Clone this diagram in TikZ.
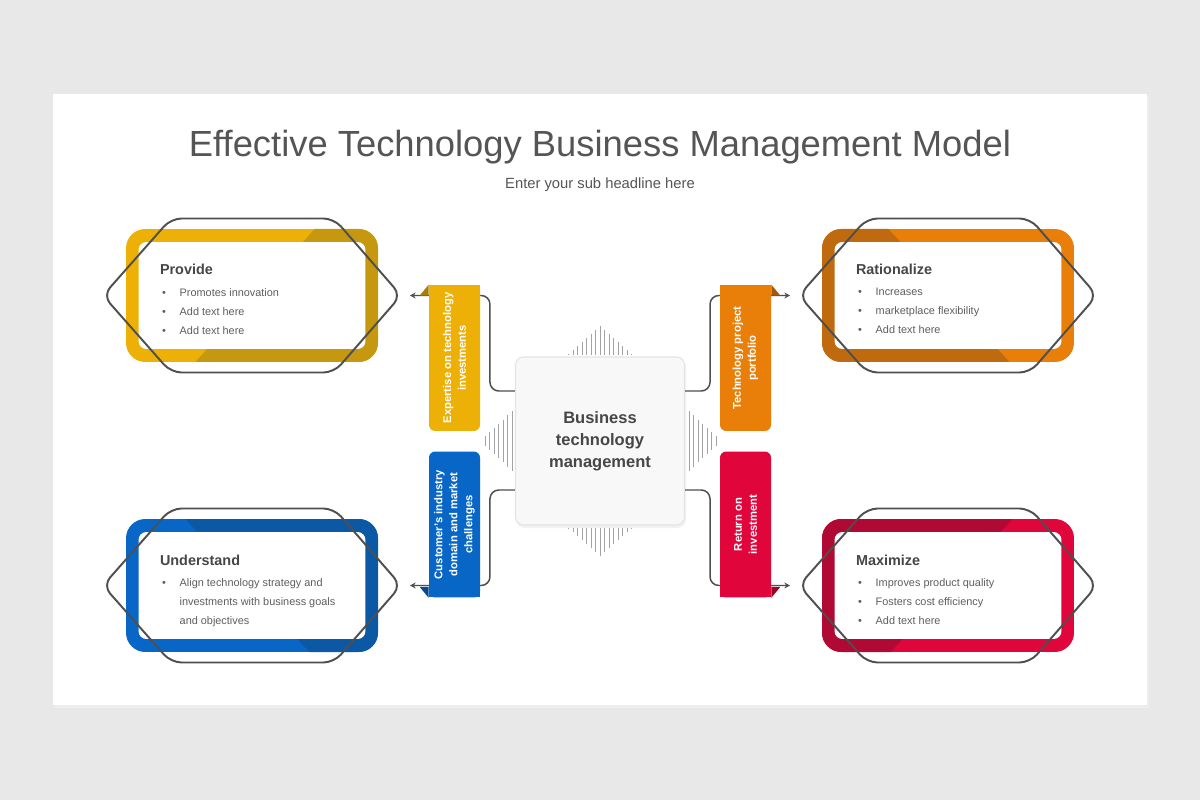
\documentclass[tikz,border=0pt]{standalone}
\usepackage{fontspec}
\setmainfont{Liberation Sans}
\usetikzlibrary{arrows.meta, positioning, calc}
\usepackage{xcolor}

\definecolor{pageGrey}{HTML}{E9E8E9}
\definecolor{titleGrey}{HTML}{555555}
\definecolor{headGrey}{HTML}{464646}
\definecolor{bodyGrey}{HTML}{5E5E5E}
\definecolor{lineGrey}{HTML}{4F4F4F}
\definecolor{hatchGrey}{HTML}{A3A3A3}
\definecolor{hubFill}{HTML}{F8F8F8}
\definecolor{hubEdge}{HTML}{E4E4E4}
\definecolor{yLight}{HTML}{EDB007}
\definecolor{yDark}{HTML}{C6980F}
\definecolor{yFold}{HTML}{A57D08}
\definecolor{oLight}{HTML}{E97F08}
\definecolor{oDark}{HTML}{BF6A0F}
\definecolor{oFold}{HTML}{A4580A}
\definecolor{bLight}{HTML}{0866C6}
\definecolor{bDark}{HTML}{0B58A5}
\definecolor{bFold}{HTML}{094A8E}
\definecolor{rLight}{HTML}{E0053A}
\definecolor{rDark}{HTML}{B00933}
\definecolor{rFold}{HTML}{9C0428}

\newcommand{\cardbullet}{\hspace*{1.2pt}\makebox[10pt][l]{\textbullet}}
\newcommand{\cardindent}{\hspace*{11.2pt}}

\begin{document}
\begin{tikzpicture}[
    x=0.02cm, y=-0.02cm, % one unit is one pixel of the slide, y grows downwards
    heading/.style={anchor=base west, inner sep=0, text=headGrey, font=\fontsize{8.2}{10}\selectfont\bfseries},
    items/.style={anchor=north west, inner sep=0, align=left, text=bodyGrey, font=\fontsize{6.2}{10.8}\selectfont},
    cardpanel/.style={rectangle, fill=white, rounded corners=4.5pt, minimum width=4.54cm, minimum height=2.14cm},
    cardoutline/.style={draw=lineGrey, line width=1.1pt, rounded corners=6pt},
    hub/.style={rectangle, rounded corners=4.5pt, fill=hubFill, draw=hubEdge, line width=0.6pt, minimum width=3.38cm, minimum height=3.36cm, align=center, text=headGrey, font=\fontsize{9.4}{12.5}\selectfont\bfseries},
    hatch/.style={draw=hatchGrey, line width=0.55pt},
    tabbox/.style={rectangle, rounded corners=3.5pt, minimum width=1.02cm, minimum height=2.92cm, inner sep=0},
    tablabel/.style={rotate=90, align=center, text=white, inner sep=0, font=\fontsize{6.4}{8.5}\selectfont\bfseries},
    link/.style={draw=lineGrey, line width=0.85pt, rounded corners=5pt, -{Stealth[length=3.2pt, width=3.4pt]}}
]
    % Slide background
    \fill[pageGrey] (0,0) rectangle (1200,800);
    \fill[black!7] (55,96) rectangle (1149,708);
    \fill[white] (53,94) rectangle (1147,705);

    % Headline
    \node[anchor=base, text=titleGrey, font=\fontsize{20.7}{24}\selectfont] (title) at (600,157) {Effective Technology Business Management Model};
    \node[anchor=base, text=titleGrey, font=\fontsize{8.4}{10}\selectfont] (subtitle) at (600,188.5) {Enter your sub headline here};

    % Centre box with its hatching
    \fill[black!5, rounded corners=5pt] (516,359) rectangle (686,528);
    \node[hub] (hub) at (600,441) {Business\\technology\\management};
    \foreach \k in {-7,...,7} {
        \draw[hatch] ($(hub.north)+(4.5*\k,-1)$) -- ++(0,{-29+0.875*abs(4.5*\k)});
        \draw[hatch] ($(hub.south)+(4.5*\k,2)$) -- ++(0,{28-0.875*abs(4.5*\k)});
    }
    \foreach \k in {1,...,7} {
        \draw[hatch] ($(hub.west)+({1.5-4.5*\k},{-34+4.2*\k})$) -- ++(0,{68-8.4*\k});
        \draw[hatch] ($(hub.east)+({4.5*\k-0.5},{-34+4.2*\k})$) -- ++(0,{68-8.4*\k});
    }

    % Four cards: two-tone frame, white panel, outline
    \foreach \nm/\cx/\cy/\lt/\dk/\a/\b/\s in {
        provide/252/295.5/yLight/yDark/63/-57/1,
        rationalize/948/295.5/oLight/oDark/-60/62/-1,
        understand/252/585.5/bLight/bDark/-67/58/1,
        maximize/948/585.5/rLight/rDark/65/-58/-1} {
        \begin{scope}
            \clip[rounded corners=11pt] (\cx-126,\cy-66.5) rectangle (\cx+126,\cy+66.5);
            \fill[\lt] (\cx-126,\cy-66.5) rectangle (\cx+126,\cy+66.5);
            \fill[\dk] ({\cx+\a},\cy-67) -- ({\cx+\s*130},\cy-67) -- ({\cx+\s*130},\cy+67) -- ({\cx+\b},\cy+67) -- cycle;
        \end{scope}
        \node[cardpanel] (\nm) at (\cx,\cy) {};
        \draw[cardoutline] (\cx-81,\cy-77) -- (\cx+82,\cy-77) -- (\cx+149,\cy) -- (\cx+82,\cy+77) -- (\cx-81,\cy+77) -- (\cx-149,\cy) -- cycle;
        \coordinate (\nm-in) at ({\cx+\s*158},\cy);
    }

    % Card texts
    \node[heading] (provide-head) at ($(provide.west)+(21.5,-20.5)$) {Provide};
    \node[items] (provide-items) at ($(provide.west)+(21.5,-7.5)$) {\cardbullet Promotes innovation\\\cardbullet Add text here\\\cardbullet Add text here};
    \node[heading] (rationalize-head) at ($(rationalize.west)+(21.5,-20.5)$) {Rationalize};
    \node[items] (rationalize-items) at ($(rationalize.west)+(21.5,-7.5)$) {\cardbullet Increases\\\cardbullet marketplace flexibility\\\cardbullet Add text here};
    \node[heading] (understand-head) at ($(understand.west)+(21.5,-20.5)$) {Understand};
    \node[items] (understand-items) at ($(understand.west)+(21.5,-7.5)$) {\cardbullet Align technology strategy and\\\cardindent investments with business goals\\\cardindent and objectives};
    \node[heading] (maximize-head) at ($(maximize.west)+(21.5,-20.5)$) {Maximize};
    \node[items] (maximize-items) at ($(maximize.west)+(21.5,-7.5)$) {\cardbullet Improves product quality\\\cardbullet Fosters cost efficiency\\\cardbullet Add text here};

    % Connectors, centre box to cards (the tabs sit on top of them)
    \draw[link] ($(hub.west)+(0,-50)$) -- ++(-25,0) |- (provide-in);
    \draw[link] ($(hub.west)+(0,49)$) -- ++(-25,0) |- (understand-in);
    \draw[link] ($(hub.east)+(0,-50)$) -- ++(25,0) |- (rationalize-in);
    \draw[link] ($(hub.east)+(0,49)$) -- ++(25,0) |- (maximize-in);

    % Ribbon tabs
    \fill[yLight] (429,285) rectangle (480,296);
    \node[tabbox, fill=yLight] (expertise) at (454.5,358) {};
    \fill[yFold] (expertise.north west) -- ++(0,11) -- ++(-9,0) -- cycle;
    \node[tablabel] (expertise-text) at (expertise) {Expertise on technology\\investments};

    \fill[oLight] (720,285) rectangle (771,296);
    \node[tabbox, fill=oLight] (portfolio) at (745.5,358) {};
    \fill[oFold] (portfolio.north east) -- ++(0,11) -- ++(9,0) -- cycle;
    \node[tablabel] (portfolio-text) at (portfolio) {Technology project\\portfolio};

    \fill[bLight] (429,586) rectangle (480,597);
    \node[tabbox, fill=bLight] (customer) at (454.5,524.5) {};
    \fill[bFold] (customer.south west) -- ++(0,-11) -- ++(-9,0) -- cycle;
    \node[tablabel] (customer-text) at (customer) {Customer's industry\\domain and market\\challenges};

    \fill[rLight] (720,586) rectangle (771,597);
    \node[tabbox, fill=rLight] (roi) at (745.5,524.5) {};
    \fill[rFold] (roi.south east) -- ++(0,-11) -- ++(9,0) -- cycle;
    \node[tablabel] (roi-text) at (roi) {Return on\\investment};
\end{tikzpicture}
\end{document}
